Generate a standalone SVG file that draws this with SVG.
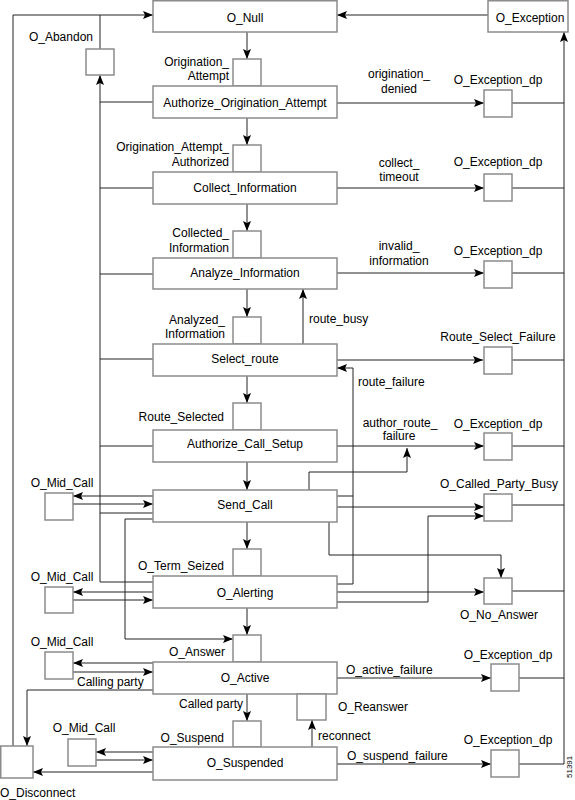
<svg xmlns="http://www.w3.org/2000/svg" width="575" height="800" viewBox="0 0 575 800">
<style>
.box{fill:#fff;stroke:#8c8c8c;stroke-width:1.5}
.ln{fill:none;stroke:#222;stroke-width:1}
.a{marker-end:url(#ah)}
text{font-family:"Liberation Sans",Arial,sans-serif;font-size:12px;fill:#000}
.m{text-anchor:middle}
.r{text-anchor:end}
</style>
<defs>
<marker id="ah" markerUnits="userSpaceOnUse" markerWidth="10" markerHeight="8" refX="10" refY="4" orient="auto">
<path d="M0,0 L10,4 L0,8 L2,4 z" fill="#000"/>
</marker>
</defs>
<rect width="575" height="800" fill="#fff"/>
<g id="connectors">
<path class="ln a" d="M488,15 H337"/>
<path class="ln a" d="M13,746 V15 H153"/>
<path class="ln" d="M100,49 V15"/>
<path class="ln a" d="M100,582 V75"/>
<path class="ln" d="M153,102 H100 M153,188 H100 M153,274 H100 M153,359 H100 M153,446 H100 M153,513 H100 M153,582 H100"/>
<path class="ln a" d="M247,32 V59"/>
<path class="ln a" d="M247,118 V145"/>
<path class="ln a" d="M247,204 V231"/>
<path class="ln a" d="M247,289 V317"/>
<path class="ln a" d="M247,376 V403"/>
<path class="ln a" d="M247,462 V490"/>
<path class="ln a" d="M247,522 V549"/>
<path class="ln a" d="M247,608 V635"/>
<path class="ln a" d="M247,694 V721"/>
<path class="ln a" d="M337,103 H484"/>
<path class="ln a" d="M337,188 H484"/>
<path class="ln a" d="M337,273 H484"/>
<path class="ln a" d="M337,360 H483"/>
<path class="ln a" d="M337,446 H484"/>
<path class="ln a" d="M337,507 H484"/>
<path class="ln a" d="M337,592 H484"/>
<path class="ln a" d="M337,678 H491"/>
<path class="ln a" d="M337,764 H491"/>
<path class="ln" d="M512,103 H564 M512,188 H564 M512,273 H564 M512,360 H564 M512,446 H564 M512,505 H564 M512,591 H564 M519,678 H564 M519,764 H564"/>
<path class="ln a" d="M564,764 V32"/>
<path class="ln a" d="M303,344 V289"/>
<path class="ln" d="M337,496 H353"/>
<path class="ln a" d="M337,584 H353 V368 H337"/>
<path class="ln a" d="M309,490 V472 H407 V448"/>
<path class="ln a" d="M337,602 H428 V516 H484"/>
<path class="ln a" d="M329,522 V555 H501 V578"/>
<path class="ln a" d="M153,496 H73"/>
<path class="ln a" d="M73,504 H153"/>
<path class="ln a" d="M153,592 H73"/>
<path class="ln a" d="M73,600 H153"/>
<path class="ln a" d="M153,663 H73"/>
<path class="ln a" d="M73,672 H153"/>
<path class="ln a" d="M153,752 H96"/>
<path class="ln a" d="M96,760 H153"/>
<path class="ln a" d="M153,519 H125 V639 H233"/>
<path class="ln a" d="M153,690 H27 V746"/>
<path class="ln a" d="M153,772 H33"/>
<path class="ln a" d="M312,747 V720"/>
</g>
<g id="O_Null"><rect class="box" x="153" y="0.75" width="184" height="31.25"/><text class="m" x="245" y="22">O_Null</text></g>
<g id="O_Exception"><rect class="box" x="488" y="0.75" width="80" height="31.25"/><text class="m" x="530" y="22">O_Exception</text></g>
<g id="O_Abandon"><rect class="box" x="86" y="49" width="28" height="26"/><text class="r" x="93" y="41">O_Abandon</text></g>
<g id="Origination_Attempt"><rect class="box" x="233" y="59" width="28" height="27"/><text class="r" x="229" y="66">Origination_</text><text class="r" x="229" y="80">Attempt</text></g>
<g id="Authorize_Origination_Attempt"><rect class="box" x="153" y="86" width="184" height="32"/><text class="m" x="245" y="107">Authorize_Origination_Attempt</text></g>
<g id="Origination_Attempt_Authorized"><rect class="box" x="233" y="145" width="28" height="27"/><text class="r" x="229" y="151">Origination_Attempt_</text><text class="r" x="229" y="166">Authorized</text></g>
<g id="Collect_Information"><rect class="box" x="153" y="172" width="184" height="32"/><text class="m" x="245" y="192">Collect_Information</text></g>
<g id="Collected_Information"><rect class="box" x="233" y="231" width="28" height="27"/><text class="r" x="229" y="237">Collected_</text><text class="r" x="229" y="252">Information</text></g>
<g id="Analyze_Information"><rect class="box" x="153" y="258" width="184" height="31"/><text class="m" x="245" y="277">Analyze_Information</text></g>
<g id="Analyzed_Information"><rect class="box" x="233" y="317" width="28" height="27"/><text class="r" x="225" y="324">Analyzed_</text><text class="r" x="225" y="338">Information</text></g>
<g id="Select_route"><rect class="box" x="153" y="344" width="184" height="32"/><text class="m" x="245" y="363">Select_route</text></g>
<g id="Route_Selected"><rect class="box" x="233" y="403" width="28" height="27"/><text class="r" x="224" y="421">Route_Selected</text></g>
<g id="Authorize_Call_Setup"><rect class="box" x="153" y="430" width="184" height="32"/><text class="m" x="245" y="448">Authorize_Call_Setup</text></g>
<g id="Send_Call"><rect class="box" x="153" y="490" width="184" height="32"/><text class="m" x="245" y="509">Send_Call</text></g>
<g id="O_Term_Seized"><rect class="box" x="233" y="549" width="28" height="27"/><text class="r" x="224" y="570">O_Term_Seized</text></g>
<g id="O_Alerting"><rect class="box" x="153" y="576" width="184" height="32"/><text class="m" x="245" y="597">O_Alerting</text></g>
<g id="O_Answer"><rect class="box" x="233" y="635" width="28" height="27"/><text class="r" x="225" y="656">O_Answer</text></g>
<g id="O_Active"><rect class="box" x="153" y="662" width="184" height="32"/><text class="m" x="245" y="682">O_Active</text></g>
<g id="O_Suspend"><rect class="box" x="233" y="721" width="28" height="26"/><text class="r" x="224" y="742">O_Suspend</text></g>
<g id="O_Suspended"><rect class="box" x="153" y="747" width="184" height="33"/><text class="m" x="245" y="767">O_Suspended</text></g>
<g id="O_Reanswer"><rect class="box" x="297" y="694" width="29" height="26"/><text x="338" y="711">O_Reanswer</text></g>
<g id="O_Disconnect"><rect class="box" x="0.75" y="746" width="32.25" height="32"/><text x="0" y="797">O_Disconnect</text></g>
<g id="Mid_Call_1"><rect class="box" x="45" y="493" width="28" height="27"/><text class="m" x="62" y="487">O_Mid_Call</text></g>
<g id="Mid_Call_2"><rect class="box" x="45" y="587" width="28" height="26"/><text class="m" x="62" y="581">O_Mid_Call</text></g>
<g id="Mid_Call_3"><rect class="box" x="45" y="652" width="28" height="27"/><text class="m" x="62" y="646">O_Mid_Call</text></g>
<g id="Mid_Call_4"><rect class="box" x="68" y="739" width="28" height="27"/><text class="m" x="84" y="732">O_Mid_Call</text></g>
<g id="Exc_dp_1"><rect class="box" x="484" y="90" width="28" height="27"/><text class="m" x="498" y="84">O_Exception_dp</text></g>
<g id="Exc_dp_2"><rect class="box" x="484" y="174" width="28" height="27"/><text class="m" x="498" y="166">O_Exception_dp</text></g>
<g id="Exc_dp_3"><rect class="box" x="484" y="261" width="28" height="27"/><text class="m" x="498" y="255">O_Exception_dp</text></g>
<g id="Route_Select_Failure"><rect class="box" x="484" y="347" width="28" height="27"/><text class="m" x="498" y="341">Route_Select_Failure</text></g>
<g id="Exc_dp_4"><rect class="box" x="484" y="433" width="28" height="27"/><text class="m" x="498" y="428">O_Exception_dp</text></g>
<g id="O_Called_Party_Busy"><rect class="box" x="484" y="494" width="28" height="27"/><text class="m" x="499" y="488">O_Called_Party_Busy</text></g>
<g id="O_No_Answer"><rect class="box" x="484" y="578" width="28" height="26"/><text class="m" x="499" y="619">O_No_Answer</text></g>
<g id="Exc_dp_5"><rect class="box" x="491" y="664" width="28" height="27"/><text class="m" x="508" y="659">O_Exception_dp</text></g>
<g id="Exc_dp_6"><rect class="box" x="491" y="750" width="28" height="27"/><text class="m" x="508" y="744">O_Exception_dp</text></g>
<g id="labels">
<text class="m" x="399" y="78">origination_</text>
<text class="m" x="399" y="93">denied</text>
<text class="m" x="399" y="167">collect_</text>
<text class="m" x="399" y="181">timeout</text>
<text class="m" x="399" y="250">invalid_</text>
<text class="m" x="399" y="265">information</text>
<text x="309" y="323">route_busy</text>
<text x="358" y="386">route_failure</text>
<text class="m" x="400" y="427">author_route_</text>
<text class="m" x="399" y="440">failure</text>
<text x="77" y="686">Calling party</text>
<text x="179" y="708">Called party</text>
<text x="346" y="674">O_active_failure</text>
<text x="318" y="740">reconnect</text>
<text x="347" y="760">O_suspend_failure</text>
<text transform="translate(572,778) rotate(-90)" style="font-size:8px">51391</text>
</g>
</svg>
